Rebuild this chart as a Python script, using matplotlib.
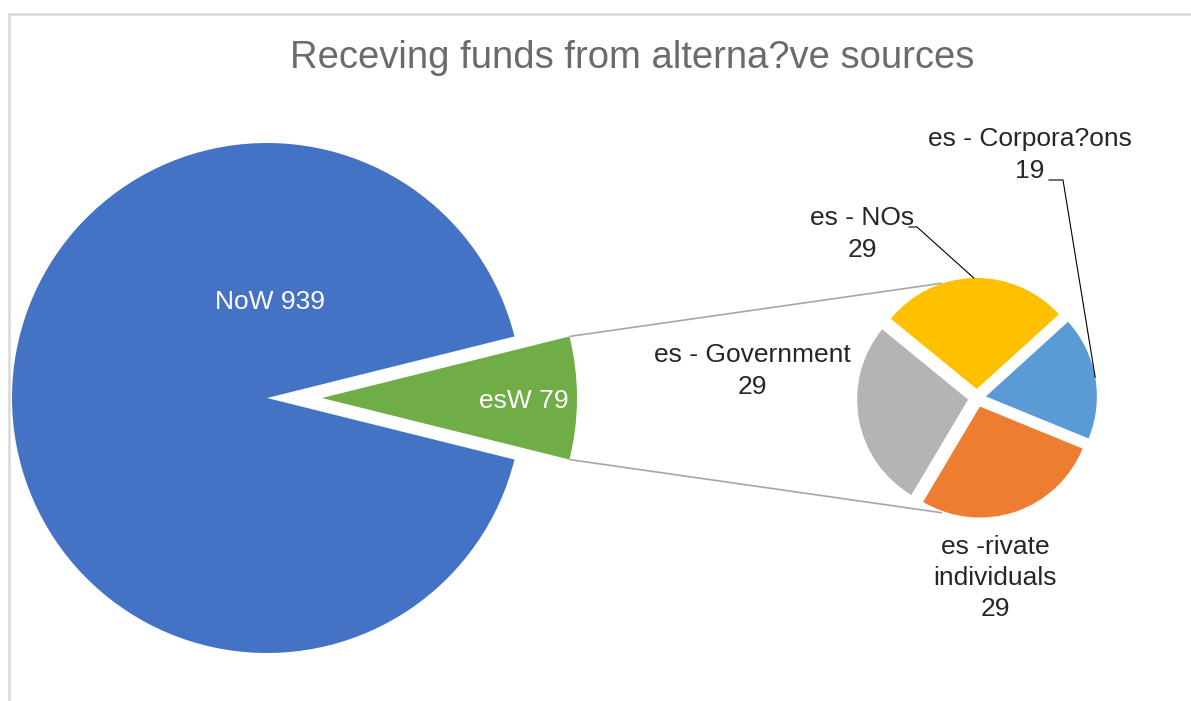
import numpy as np
import matplotlib
matplotlib.use("Agg")
import matplotlib.pyplot as plt
from matplotlib.lines import Line2D

plt.rcParams['font.family'] = ['Liberation Sans', 'DejaVu Sans']

# main split of answers
main_labels = ["esW", "NoW"]
main_values = [79, 939]
main_colors = ["#70AD47", "#4472C4"]

# breakdown of the "yes" answers by source
detail_labels = ["es - Corpora?ons", "es - NOs", "es - Government", "es -rivate\nindividuals"]
detail_values = [19, 29, 29, 29]
detail_colors = ["#5B9BD5", "#FFC000", "#B4B4B4", "#ED7D31"]

title = "Receving funds from alterna?ve sources"

W, H = 1191, 701
px = 255.0                     # pixels per data unit (main pie radius = 1)
cx_main, cy_main = 267, 398    # pixel position of main pie centre

fig = plt.figure(figsize=(W / 100, H / 100), dpi=100)
ax = fig.add_axes([0, 0, 1, 1])
ax.set_aspect('equal')
ax.axis('off')

# main pie, the "yes" slice pulled out to the right
main_frac = np.array(main_values) / sum(main_values)
start_main = -main_frac[0] * 180
green_explode = 55 / px
ax.pie(main_values, colors=main_colors, startangle=start_main, counterclock=True,
       explode=[green_explode, 0], radius=1.0, center=(0, 0),
       wedgeprops=dict(linewidth=0))

ax.text(0.01, 0.375, f"{main_labels[1]} {main_values[1]}", color="white",
        fontsize=19, ha="center", va="center")
ax.text(green_explode + 0.79, -0.01, f"{main_labels[0]} {main_values[0]}", color="white",
        fontsize=19, ha="center", va="center")

# secondary pie
c2 = ((977 - cx_main) / px, 0.0)
r2 = 111 / px
ex2 = 9 / px
detail_frac = np.array(detail_values) / sum(detail_values)
start2 = 10 - detail_frac[0] * 180
wedges, _ = ax.pie(detail_values, colors=detail_colors, startangle=start2, counterclock=True,
                   explode=[ex2] * len(detail_values), radius=r2, center=c2,
                   wedgeprops=dict(linewidth=0))
ax.set_xlim(-cx_main / px, (W - cx_main) / px)
ax.set_ylim(-(H - cy_main) / px, cy_main / px)

# connector lines between the pulled slice and the secondary pie
a0 = np.deg2rad(main_frac[0] * 180)
for sgn in (1, -1):
    x0 = green_explode + np.cos(a0)
    y0 = sgn * np.sin(a0)
    ang = np.deg2rad(107 if sgn > 0 else 253)
    x1 = c2[0] + (r2 + ex2) * np.cos(ang)
    y1 = c2[1] + (r2 + ex2) * np.sin(ang)
    ax.plot([x0, x1], [y0, y1], color="#A6A6A6", lw=1.2, solid_capstyle="butt")

# data labels around the secondary pie
def to_data(x, y):
    return (x - cx_main) / px, (cy_main - y) / px

mids = []
acc = start2
for f in detail_frac:
    mids.append(np.deg2rad(acc + f * 180))
    acc += f * 360

label_pos = [(1030, 155), (862, 234), (752, 371), (995, 578)]
txt_color = "#262626"
for lab, val, pos in zip(detail_labels, detail_values, label_pos):
    x, y = to_data(*pos)
    ax.text(x, y, f"{lab}\n{val}", color=txt_color, fontsize=19, ha="center",
            va="center", multialignment="center", linespacing=1.38)

def edge_point(i, extra=0.0):
    m = mids[i]
    rr = r2 + ex2 + extra
    return c2[0] + rr * np.cos(m), c2[1] + rr * np.sin(m)

# leader for NOs
p1 = to_data(909, 227)
p2 = to_data(917, 227)
p3 = edge_point(1)
ax.plot([p1[0], p2[0], p3[0]], [p1[1], p2[1], p3[1]], color="black", lw=0.8)

# leader for Corporations
q1 = to_data(1049, 180)
q2 = to_data(1063, 180)
q3 = edge_point(0)
ax.plot([q1[0], q2[0], q3[0]], [q1[1], q2[1], q3[1]], color="black", lw=0.8)

fig.text(632 / W, 1 - 58 / H, title, color="#6B6B6B", fontsize=27.5, ha="center", va="center")

# chart area frame (top and left edges)
fig.add_artist(Line2D([8.5 / W, 1.0], [1 - 14 / H, 1 - 14 / H], color="#D9D9D9", lw=1.8,
                      transform=fig.transFigure))
fig.add_artist(Line2D([8.5 / W, 8.5 / W], [0.0, 1 - 14 / H], color="#D9D9D9", lw=1.8,
                      transform=fig.transFigure))

fig.savefig("out.png", dpi=100, facecolor="white")
